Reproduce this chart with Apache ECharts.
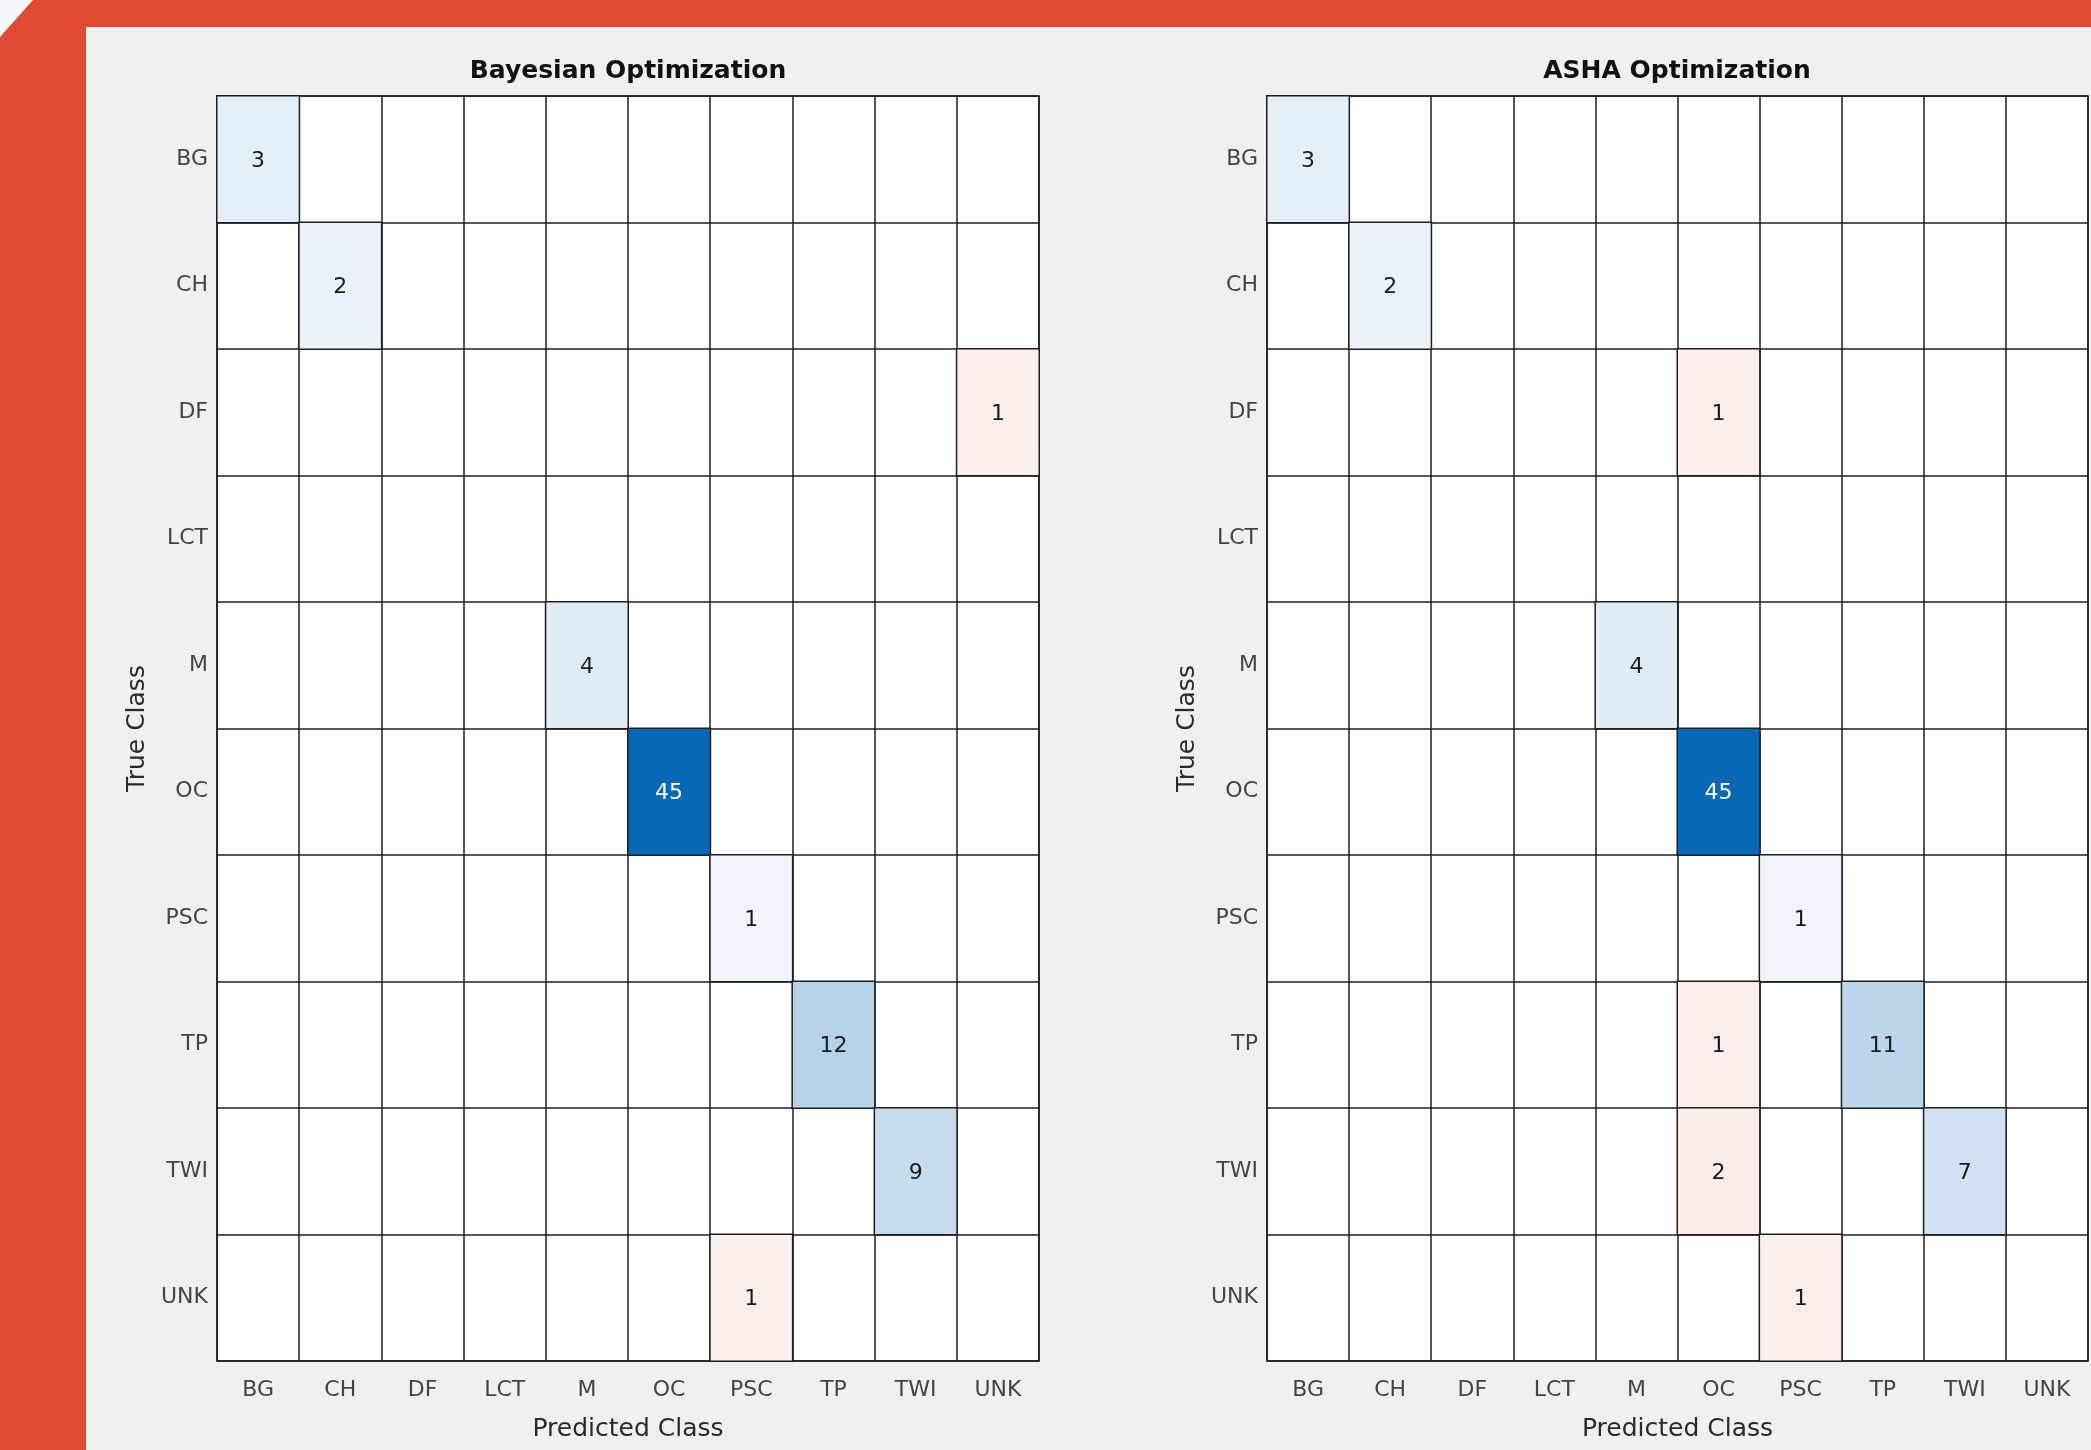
<!DOCTYPE html>
<html>
<head>
<meta charset="utf-8">
<script src="https://cdn.jsdelivr.net/npm/echarts@6/dist/echarts.min.js"></script>
<style>
  html, body { margin: 0; padding: 0; width: 2091px; height: 1450px; overflow: hidden; background: #e04a33; }
  #corner { position: absolute; left: 0; top: 0; width: 40px; height: 40px; background: #f6f8fb;
            clip-path: polygon(0 0, 33px 0, 0 37px); }
  #panel { position: absolute; left: 86px; top: 27px; width: 2005px; height: 1423px; background: #f0f0f0; }
  #chart { position: absolute; left: 0; top: 0; width: 2091px; height: 1450px; }
</style>
</head>
<body>
<div id="corner"></div>
<div id="panel"></div>
<div id="chart"></div>
<script>
// ---- data ----
const categories = ['BG', 'CH', 'DF', 'LCT', 'M', 'OC', 'PSC', 'TP', 'TWI', 'UNK'];
const chartTitles = ['Bayesian Optimization', 'ASHA Optimization'];
const xAxisName = 'Predicted Class';
const yAxisName = 'True Class';

// rows = true class, columns = predicted class
const bayesMatrix = [
  [3, 0, 0, 0, 0, 0, 0, 0, 0, 0],
  [0, 2, 0, 0, 0, 0, 0, 0, 0, 0],
  [0, 0, 0, 0, 0, 0, 0, 0, 0, 1],
  [0, 0, 0, 0, 0, 0, 0, 0, 0, 0],
  [0, 0, 0, 0, 4, 0, 0, 0, 0, 0],
  [0, 0, 0, 0, 0, 45, 0, 0, 0, 0],
  [0, 0, 0, 0, 0, 0, 1, 0, 0, 0],
  [0, 0, 0, 0, 0, 0, 0, 12, 0, 0],
  [0, 0, 0, 0, 0, 0, 0, 0, 9, 0],
  [0, 0, 0, 0, 0, 0, 1, 0, 0, 0]
];
const ashaMatrix = [
  [3, 0, 0, 0, 0, 0, 0, 0, 0, 0],
  [0, 2, 0, 0, 0, 0, 0, 0, 0, 0],
  [0, 0, 0, 0, 0, 1, 0, 0, 0, 0],
  [0, 0, 0, 0, 0, 0, 0, 0, 0, 0],
  [0, 0, 0, 0, 4, 0, 0, 0, 0, 0],
  [0, 0, 0, 0, 0, 45, 0, 0, 0, 0],
  [0, 0, 0, 0, 0, 0, 1, 0, 0, 0],
  [0, 0, 0, 0, 0, 1, 0, 11, 0, 0],
  [0, 0, 0, 0, 0, 2, 0, 0, 7, 0],
  [0, 0, 0, 0, 0, 0, 1, 0, 0, 0]
];

// ---- build ----
const FONT = "'DejaVu Sans', sans-serif";
const LINE = '#1e1e1e';

function cells(matrix, diagonal) {
  const out = [];
  matrix.forEach((row, r) => row.forEach((v, c) => {
    if (v !== 0 && ((r === c) === diagonal)) {
      out.push({ value: [c, r, v], label: { color: v > 25 ? '#ffffff' : '#1a1a1a' } });
    }
  }));
  return out;
}

const grids = [
  { left: 217, top: 96, width: 822, height: 1265 },
  { left: 1267, top: 96, width: 821, height: 1265 }
].map(g => Object.assign(g, { show: true, backgroundColor: '#ffffff', borderColor: LINE, borderWidth: 1.5 }));

const splitLine = { show: true, interval: 0, lineStyle: { color: LINE, width: 1.5 } };

const xAxes = [0, 1].map(i => ({
  type: 'category', gridIndex: i, data: categories, position: 'bottom',
  axisLine: { show: false }, axisTick: { show: false }, splitLine,
  axisLabel: { interval: 0, fontSize: 22, color: '#444444', margin: 18, fontFamily: FONT },
  name: xAxisName, nameLocation: 'middle', nameGap: 56,
  nameTextStyle: { fontSize: 25, color: '#2a2a2a', fontFamily: FONT }
}));
const yAxes = [0, 1].map(i => ({
  type: 'category', gridIndex: i, data: categories, inverse: true,
  axisLine: { show: false }, axisTick: { show: false }, splitLine,
  axisLabel: { interval: 0, fontSize: 22, color: '#444444', margin: 9, fontFamily: FONT },
  name: yAxisName, nameLocation: 'middle', nameGap: 67, nameRotate: 90,
  nameTextStyle: { fontSize: 25, color: '#2a2a2a', fontFamily: FONT }
}));

function heat(i, matrix, diagonal) {
  return {
    type: 'heatmap', xAxisIndex: i, yAxisIndex: i,
    data: cells(matrix, diagonal),
    itemStyle: { borderColor: LINE, borderWidth: 1.5 },
    label: { show: true, fontSize: 22, fontFamily: FONT, offset: [0, 2], formatter: p => String(p.value[2]) },
    emphasis: { disabled: true }
  };
}

const option = {
  animation: false,
  backgroundColor: 'transparent',
  title: chartTitles.map((t, i) => ({
    text: t, left: (i === 0 ? 628 : 1677) - 5, top: 66, textAlign: 'center', textVerticalAlign: 'middle',
    textStyle: { fontSize: 25, fontWeight: 'bold', color: '#111111', fontFamily: FONT }
  })),
  grid: grids,
  xAxis: xAxes,
  yAxis: yAxes,
  visualMap: [
    { type: 'continuous', show: false, seriesIndex: [0, 2], dimension: 2, min: -2, max: 45,
      inRange: { color: ['#ffffff', '#0868b5'] } },
    { type: 'continuous', show: false, seriesIndex: [1, 3], dimension: 2, min: -4, max: 45,
      inRange: { color: ['#ffffff', '#d9603a'] } }
  ],
  series: [
    heat(0, bayesMatrix, true), heat(0, bayesMatrix, false),
    heat(1, ashaMatrix, true), heat(1, ashaMatrix, false)
  ]
};

const chart = echarts.init(document.getElementById('chart'), null, { renderer: 'canvas' });
chart.setOption(option);
</script>
</body>
</html>
